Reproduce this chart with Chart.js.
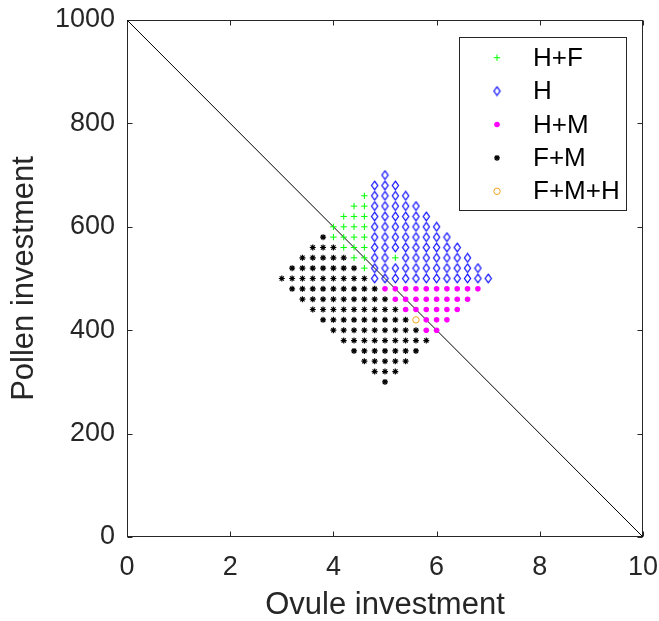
<!DOCTYPE html>
<html><head><meta charset="utf-8">
<script src="https://cdn.jsdelivr.net/npm/chart.js@4.4.1/dist/chart.umd.min.js"></script>
<style>html,body{margin:0;padding:0;background:#fff;}#wrap{width:659px;height:621px;}</style>
</head><body><div id="wrap"><canvas id="c" width="659" height="621"></canvas></div>
<script>
// ---- data: rows of [pollen (y), [ovule (x) values]] ----
const hfRows = [ // H+F
  [660, [4.6]],
  [640, [4.4, 4.6]],
  [620, [4.2, 4.4, 4.6]],
  [600, [4.0, 4.2, 4.4, 4.6]],
  [580, [4.0, 4.2, 4.4, 4.6]],
  [560, [4.2, 4.4, 4.6]],
  [540, [4.4, 4.6, 5.2]],
  [520, [4.6]]
];
const hRows = [ // H
  [700, [5.0]],
  [680, [4.8, 5.0, 5.2]],
  [660, [4.8, 5.0, 5.2, 5.4]],
  [640, [4.8, 5.0, 5.2, 5.4, 5.6]],
  [620, [4.8, 5.0, 5.2, 5.4, 5.6, 5.8]],
  [600, [4.8, 5.0, 5.2, 5.4, 5.6, 5.8, 6.0]],
  [580, [4.8, 5.0, 5.2, 5.4, 5.6, 5.8, 6.0, 6.2]],
  [560, [4.8, 5.0, 5.2, 5.4, 5.6, 5.8, 6.0, 6.2, 6.4]],
  [540, [4.8, 5.0, 5.4, 5.6, 5.8, 6.0, 6.2, 6.4, 6.6]],
  [520, [4.8, 5.0, 5.2, 5.4, 5.6, 5.8, 6.0, 6.2, 6.4, 6.6, 6.8]],
  [500, [4.8, 5.0, 5.2, 5.4, 5.6, 5.8, 6.0, 6.2, 6.4, 6.6, 6.8, 7.0]]
];
const hmRows = [ // H+M
  [480, [5.0, 5.2, 5.4, 5.6, 5.8, 6.0, 6.2, 6.4, 6.6, 6.8]],
  [460, [5.2, 5.4, 5.6, 5.8, 6.0, 6.2, 6.4, 6.6]],
  [440, [5.4, 5.6, 5.8, 6.0, 6.2, 6.4]],
  [420, [5.8, 6.0, 6.2]],
  [400, [5.8, 6.0]]
];
const fmRows = [ // F+M
  [580, [3.8]],
  [560, [3.6, 3.8, 4.0]],
  [540, [3.4, 3.6, 3.8, 4.0, 4.2]],
  [520, [3.2, 3.4, 3.6, 3.8, 4.0, 4.2, 4.4]],
  [500, [3.0, 3.2, 3.4, 3.6, 3.8, 4.0, 4.2, 4.4, 4.6]],
  [480, [3.2, 3.4, 3.6, 3.8, 4.0, 4.2, 4.4, 4.6, 4.8]],
  [460, [3.4, 3.6, 3.8, 4.0, 4.2, 4.4, 4.6, 4.8, 5.0]],
  [440, [3.6, 3.8, 4.0, 4.2, 4.4, 4.6, 4.8, 5.0, 5.2]],
  [420, [3.8, 4.0, 4.2, 4.4, 4.6, 4.8, 5.0, 5.2, 5.4]],
  [400, [4.0, 4.2, 4.4, 4.6, 4.8, 5.0, 5.2, 5.4, 5.6]],
  [380, [4.2, 4.4, 4.6, 4.8, 5.0, 5.2, 5.4, 5.6, 5.8]],
  [360, [4.4, 4.6, 4.8, 5.0, 5.2, 5.4, 5.6]],
  [340, [4.6, 4.8, 5.0, 5.2, 5.4]],
  [320, [4.8, 5.0, 5.2]],
  [300, [5.0]]
];
const fmhRows = [ // F+M+H
  [420, [5.6]]
];
const lineX = [0, 10];
const lineY = [1000, 0];
const seriesLabels = ['H+F', 'H', 'H+M', 'F+M', 'F+M+H'];
const xTicks = [0, 2, 4, 6, 8, 10];
const yTicks = [0, 200, 400, 600, 800, 1000];
const xTitle = 'Ovule investment';
const yTitle = 'Pollen investment';

// ---- build ----
const FONT = '"Liberation Sans", Arial, Helvetica, sans-serif';
const AX = '#262626';
function toPts(rows){ return rows.flatMap(([y, xs]) => xs.map(x => ({x: x, y: y}))); }
function diamondImage(color){
  const c = document.createElement('canvas'); c.width = 9; c.height = 11;
  const g = c.getContext('2d'); g.strokeStyle = color; g.lineWidth = 1.15;
  g.beginPath(); g.moveTo(4.5, 1.2); g.lineTo(7.6, 5.5); g.lineTo(4.5, 9.8); g.lineTo(1.4, 5.5); g.closePath(); g.stroke();
  return c;
}
const diamond = diamondImage('#0000ff');

const datasets = [
  {label: '', inLegend: false, data: lineX.map((x, i) => ({x: x, y: lineY[i]})), showLine: true,
   borderColor: '#000', borderWidth: 1, pointRadius: 0, order: 10},
  {label: seriesLabels[0], data: toPts(hfRows), pointStyle: 'cross', pointRadius: 3.2,
   pointBorderColor: '#00ff00', pointBackgroundColor: '#00ff00', pointBorderWidth: 1},
  {label: seriesLabels[1], data: toPts(hRows), pointStyle: diamond, pointRadius: 4,
   pointBorderColor: '#0000ff', pointBackgroundColor: 'rgba(0,0,0,0)', pointBorderWidth: 1},
  {label: seriesLabels[2], data: toPts(hmRows), pointStyle: 'circle', pointRadius: 2.8,
   pointBorderColor: '#ff00ff', pointBackgroundColor: '#ff00ff', pointBorderWidth: 0},
  {label: seriesLabels[3], data: toPts(fmRows), pointStyle: 'star', pointRadius: 3,
   pointBorderColor: '#000000', pointBackgroundColor: '#000000', pointBorderWidth: 1.2},
  {label: seriesLabels[4], data: toPts(fmhRows), pointStyle: 'circle', pointRadius: 3.2,
   pointBorderColor: '#f2a51f', pointBackgroundColor: 'rgba(0,0,0,0)', pointBorderWidth: 1}
];

const frame = {
  id: 'frame',
  beforeDatasetsDraw(chart){
    const {ctx, chartArea: a, scales: {x, y}} = chart;
    ctx.save();
    ctx.strokeStyle = AX; ctx.lineWidth = 1;
    const L = Math.round(a.left) + 0.5, R = Math.round(a.right) - 0.5;
    const T = Math.round(a.top) + 0.5, B = Math.round(a.bottom) - 0.5;
    ctx.strokeRect(L, T, R - L, B - T);
    ctx.beginPath();
    const tl = 5;
    x.ticks.forEach(t => { const px = Math.round(x.getPixelForValue(t.value)) + 0.5;
      ctx.moveTo(px, B); ctx.lineTo(px, B - tl); ctx.moveTo(px, T); ctx.lineTo(px, T + tl); });
    y.ticks.forEach(t => { const py = Math.round(y.getPixelForValue(t.value)) + 0.5;
      ctx.moveTo(L, py); ctx.lineTo(L + tl, py); ctx.moveTo(R, py); ctx.lineTo(R - tl, py); });
    ctx.stroke();
    ctx.restore();
  }
};

const innerLegend = {
  id: 'innerLegend',
  afterDraw(chart){
    const ctx = chart.ctx;
    const box = {x: 459.5, y: 37.5, w: 167, h: 173};
    ctx.save();
    ctx.fillStyle = '#fff'; ctx.fillRect(box.x, box.y, box.w, box.h);
    ctx.strokeStyle = AX; ctx.lineWidth = 1; ctx.strokeRect(box.x, box.y, box.w, box.h);
    const items = chart.data.datasets.filter(d => d.inLegend !== false);
    items.forEach((d, i) => {
      const cy = 57.7 + i * 33.4;
      ctx.save();
      ctx.fillStyle = d.pointBackgroundColor; ctx.strokeStyle = d.pointBorderColor; ctx.lineWidth = d.pointBorderWidth;
      Chart.helpers.drawPoint(ctx, {pointStyle: d.pointStyle, radius: d.pointRadius, rotation: 0, borderWidth: d.pointBorderWidth}, 497, cy);
      ctx.restore();
      ctx.fillStyle = '#000'; ctx.textAlign = 'left'; ctx.textBaseline = 'middle';
      ctx.font = '26px ' + FONT;
      ctx.fillText(d.label, 533, cy + 1);
    });
    ctx.restore();
  }
};

new Chart(document.getElementById('c'), {
  type: 'scatter',
  data: {datasets: datasets},
  plugins: [frame, innerLegend],
  options: {
    responsive: false, devicePixelRatio: 1, animation: false, events: [],
    layout: {padding: {top: 20, right: 16, left: 0, bottom: 0}},
    plugins: {legend: {display: false}, tooltip: {enabled: false}},
    scales: {
      x: {type: 'linear', min: 0, max: 10,
          afterBuildTicks: s => { s.ticks = xTicks.map(v => ({value: v})); },
          ticks: {padding: 14, color: AX, font: {size: 27, family: FONT}, maxRotation: 0, callback: v => String(v)},
          grid: {display: false, drawTicks: false}, border: {display: false},
          title: {display: true, text: xTitle, color: AX, font: {size: 31, family: FONT, lineHeight: 1}, padding: {top: 0, bottom: 0}},
          afterFit: s => { s.height = 84; s.paddingLeft = 0; s.paddingRight = 0; }},
      y: {type: 'linear', min: 0, max: 1000,
          afterBuildTicks: s => { s.ticks = yTicks.map(v => ({value: v})); },
          ticks: {padding: 12, color: AX, font: {size: 27, family: FONT}, callback: v => String(v)},
          grid: {display: false, drawTicks: false}, border: {display: false},
          title: {display: true, text: yTitle, color: AX, font: {size: 31, family: FONT, lineHeight: 1}, padding: {top: 9, bottom: 0}},
          afterFit: s => { s.width = 127; s.paddingTop = 0; s.paddingBottom = 0; }}
    }
  }
});
</script></body></html>
